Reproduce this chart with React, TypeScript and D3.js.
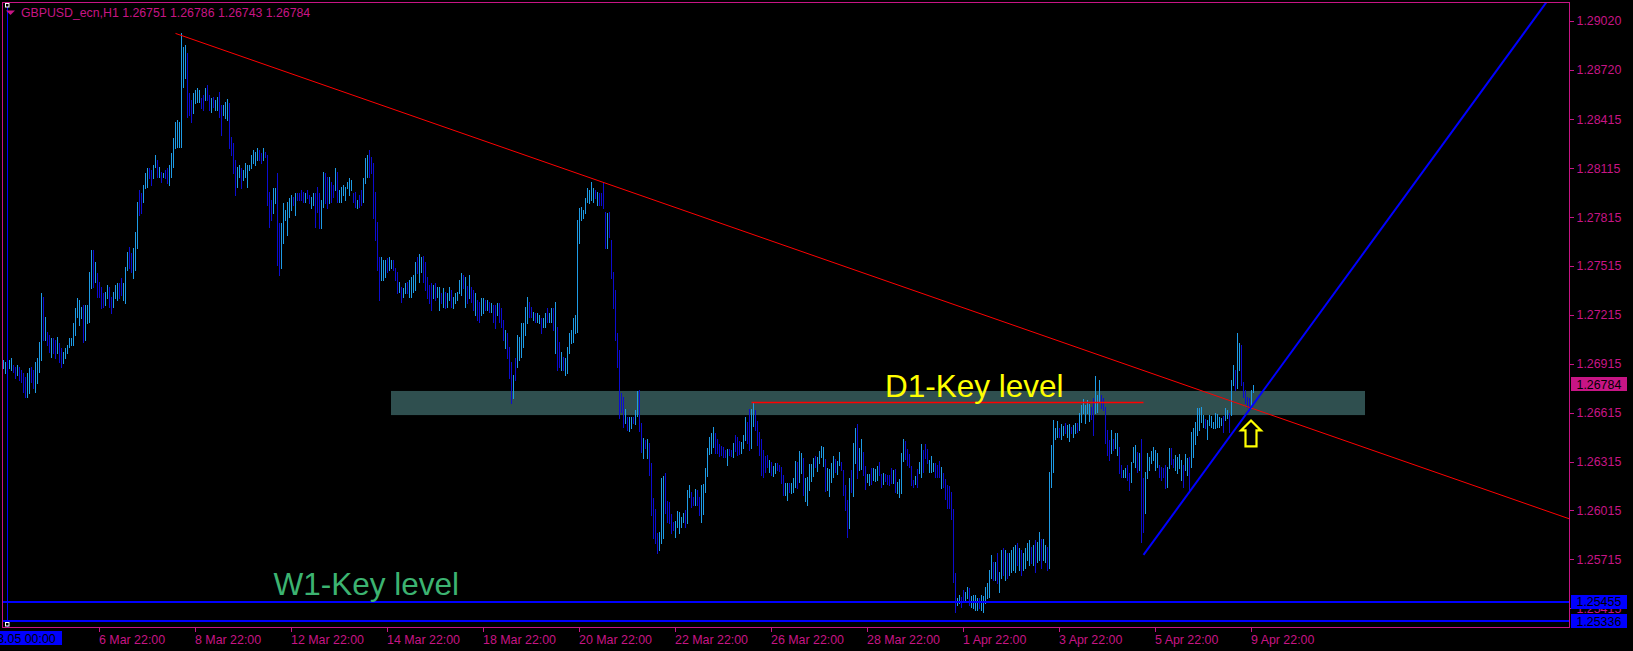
import React from "react";
import * as d3 from "d3";

// ---------- data ----------
const chartTitle = "GBPUSD_ecn,H1  1.26751 1.26786 1.26743 1.26784";
const basePrice = 1.25;
const pointSize = 0.00001;

// hourly bar highs / lows in points above 1.25000
const highPts = [
  1938,1928,1938,1938,1948,1907,1897,1907,1897,1877,
  1856,1836,1856,1887,1897,1877,1928,1948,2051,2347,
  2327,2204,2112,2092,2071,2071,2061,2081,2040,2010,
  1989,2010,2030,2071,2071,2163,2255,2316,2306,2265,
  2276,2276,2276,2480,2613,2613,2541,2470,2419,2388,
  2347,2357,2398,2388,2327,2357,2398,2408,2408,2439,
  2408,2511,2603,2633,2593,2623,2725,2909,2981,2961,
  3012,3083,3114,3114,3104,3134,3196,3165,3124,3094,
  3083,3104,3114,3134,3206,3298,3400,3411,3400,3942,
  3860,3871,3820,3574,3533,3574,3595,3605,3595,3543,
  3564,3605,3625,3564,3543,3554,3533,3554,3584,3503,
  3503,3523,3537,3513,3308,3267,3165,3124,3134,3114,
  3104,3145,3134,3134,3196,3226,3216,3237,3226,3206,
  3237,3216,3196,2971,2920,2991,2991,3083,2777,2777,
  2899,2858,2909,2930,2950,2940,2961,2961,2961,2981,
  2971,2961,2981,2950,2940,2961,2961,3002,2961,2920,
  3094,3083,3063,3063,3032,3012,3114,3094,2981,3002,
  3012,3002,3032,3053,3042,2961,2971,2920,2950,2981,
  3053,3175,3196,3226,3186,3145,2971,2787,2572,2572,
  2552,2552,2562,2572,2552,2552,2500,2480,2419,
  2388,2378,2409,2419,2429,2450,2460,2542,2572,2589,
  2572,2576,2542,2450,2398,2409,2398,2409,2388,2388,
  2347,2378,2358,2347,2388,2368,2327,2347,2358,2429,
  2470,2460,2450,2392,2460,2388,2368,2347,2306,2296,
  2317,2317,2306,2306,2296,2286,2276,2276,2286,2286,
  2255,2184,2122,2102,2020,1928,1846,1949,2092,2081,
  2163,2163,2266,2327,2296,2266,2235,2225,2225,2214,
  2194,2194,2225,2255,2225,2255,2255,2296,2143,2051,
  1989,1959,1949,2020,2102,2122,2194,2214,2797,2869,
  2879,2859,2930,2991,2981,3032,2991,2981,2971,2961,
  2961,3026,2848,2838,2848,2675,2480,2368,2102,
  2000,1738,1713,1635,1590,1590,1590,1590,1631,1750,
  1754,1550,1458,1447,1451,1427,1304,1089,1022,875,
  885,1212,1226,1243,1073,1069,993,946,950,1012,
  1008,977,997,1018,1141,1171,1130,1100,1147,1141,
  1100,1171,1177,1274,1396,1468,1492,1529,1488,1451,
  1423,1410,1402,1386,1392,1390,1386,1431,1478,1468,
  1443,1437,1478,1590,1560,1635,1635,1676,1631,1564,
  1498,1451,1386,1349,1355,1325,1314,1290,1304,1304,
  1294,1280,1233,1181,1181,1181,1181,1212,1320,1314,
  1382,
  1369,1334,1212,1218,1300,1300,1334,1349,1345,1381,
  1410,1402,1328,1273,1267,1304,1349,1328,1320,1375,
  1314,1263,1171,1079,1212,1263,1431,1519,1545,1396,
  1451,1375,1287,1238,1238,1273,1273,1267,1287,1314,
  1238,1247,1238,1232,1232,1273,1263,1267,1191,1206,
  1369,1451,1443,1390,1361,1287,1202,1226,1267,1314,
  1422,1386,1422,1390,1324,1349,1304,1308,1294,1320,
  1279,1242,1206,1171,1165,1130,1022,
  631,478,496,486,527,516,547,539,490,496,
  496,478,478,496,490,545,570,649,742,700,
  700,752,639,
  772,784,772,754,754,772,792,803,815,784,
  772,754,784,815,834,792,803,834,823,884,
  840,840,803,792,
  1253,1416,1570,1519,1566,1519,1545,1533,1549,1539,
  1545,1529,1539,1553,1549,1611,1662,1697,1662,1693,
  1668,1652,1703,1840,1723,1815,1723,1703,1648,1508,
  1447,1508,1451,1488,1492,1406,1294,1263,1273,1294,
  1243,1314,1406,1416,1376,1365,1451,1212,1253,1365,
  1345,1382,1406,1386,1365,1294,1283,1273,1294,1283,
  1396,1396,1329,1355,1345,1361,1324,1294,1361,1335,
  1345,1498,1519,1560,1641,1641,1648,1601,1574,1570,
  1601,1594,1560,1611,1607,1590,1580,1594,1641,1631,
  1611,1815,1907,1877,2102,2040,2030,1805,1754,1713,
  1703,1754,1786,
];

const lowPts = [
  1887,1856,1907,1887,1877,1867,1826,1846,1815,1805,
  1744,1713,1713,1734,1805,1764,1744,1795,1867,1938,
  2061,2061,2030,1989,1959,1979,1948,1979,1928,1897,
  1918,1948,1979,2020,2030,2030,2092,2204,2153,2194,
  2051,2061,2163,2173,2378,2388,2419,2327,2327,2255,
  2265,2276,2316,2265,2224,2265,2316,2306,2316,2337,
  2306,2286,2490,2500,2480,2439,2490,2623,2828,2838,
  2909,2991,3002,3053,3012,3053,3124,3063,3063,3032,
  3063,3053,3022,3012,3063,3124,3237,3247,3247,3247,
  3615,3666,3431,3441,3400,3451,3513,3523,3523,3482,
  3472,3533,3533,3472,3462,3492,3472,3472,3431,3318,
  3441,3421,3411,3237,3196,3083,2950,3002,3063,2991,
  3042,3063,3002,3104,3114,3145,3134,3165,3165,3145,
  3165,3186,2889,2756,2797,2838,2899,2521,2460,2500,
  2654,2797,2705,2817,2858,2889,2828,2920,2920,2920,
  2909,2909,2930,2899,2869,2889,2756,2848,2746,2746,
  2879,2899,2869,2899,2909,2940,2981,2909,2909,2909,
  2950,2920,2991,2950,2981,2909,2879,2869,2879,2889,
  2909,3022,3063,3063,3083,2807,2674,2490,2306,2429,
  2429,2449,2480,2490,2500,2490,2429,2347,2357,
  2296,2327,2347,2347,2327,2327,2358,2368,2470,2419,
  2480,2419,2368,2317,2286,2245,2317,2306,2327,2245,
  2286,2266,2255,2266,2306,2266,2255,2286,2306,2347,
  2337,2378,2266,2286,2317,2296,2245,2214,2184,2173,
  2214,2225,2245,2245,2235,2235,2173,2133,2214,2173,
  2143,2061,2010,1949,1826,1673,1703,1816,1897,1938,
  1959,2020,2092,2163,2204,2204,2184,2173,2173,2163,
  2102,2143,2143,2173,2173,2173,2122,1979,1877,1897,
  1877,1877,1846,1856,1979,2041,2051,2102,2112,2654,
  2797,2807,2838,2910,2899,2920,2910,2930,2889,2889,
  2889,2869,2623,2623,2695,2439,2255,2061,1897,
  1580,1621,1529,1550,1509,1502,1519,1550,1546,1595,
  1505,1376,1335,1396,1335,1233,987,844,813,752,
  772,813,844,997,946,936,875,895,854,916,
  875,916,946,916,940,1100,1038,1048,1048,1048,
  987,946,993,1130,1226,1361,1365,1406,1365,1365,
  1349,1355,1345,1341,1294,1355,1349,1341,1382,1355,
  1361,1365,1396,1447,1431,1386,1396,1533,1509,1417,
  1355,1233,1222,1253,1284,1253,1233,1226,1243,1263,
  1259,1181,1110,1110,1079,1130,1120,1130,1157,1151,
  1192,
  1242,1110,1075,1048,1140,1197,1226,1279,1259,1304,
  1345,1287,1136,1140,1103,1191,1222,1253,1238,1294,
  1263,1110,1018,854,905,1130,1103,1304,1212,1263,
  1267,1232,1144,1191,1171,1177,1202,1197,1202,1232,
  1157,1177,1197,1177,1171,1185,1181,1130,1120,1095,
  1120,1320,1328,1294,1279,1171,1157,1177,1161,1247,
  1218,1253,1334,1304,1253,1253,1259,1222,1222,1222,
  1150,1161,1083,1028,1028,960,578,
  394,435,447,421,465,465,476,435,424,416,
  404,404,416,404,394,447,478,486,600,588,
  591,568,516,
  600,619,588,600,619,637,649,637,680,649,
  619,649,662,711,680,692,680,637,699,711,
  662,711,699,649,
  662,1161,1253,1451,1463,1468,1451,1478,1488,1468,
  1443,1488,1468,1488,1498,1508,1560,1611,1553,1611,
  1566,1574,1478,1611,1621,1682,1641,1631,1427,1355,
  1324,1365,1386,1396,1355,1247,1218,1222,1222,1202,
  1140,1191,1314,1283,1253,1263,823,885,997,1212,
  1263,1308,1324,1263,1283,1222,1202,1222,1151,1161,
  1273,1300,1283,1263,1243,1273,1202,1161,1263,1232,
  1130,1283,1345,1423,1478,1508,1560,1529,1519,1451,
  1539,1529,1519,1519,1529,1529,1539,1498,1570,1580,
  1498,1601,1785,1754,1764,1877,1785,1713,1672,1652,
  1631,1641,1743,
];

// u = bullish bar, d = bearish bar
const barDirection = [
  "uuduuddudd","dduudduuuu","dudduddudd","uuuuuuuuuu","duuuududdd",
  "duudduuudd","uuudduuudd","uuudduudud","udduuuuuuu","uuddduuuud",
  "dudduduudd","uuudddduud","uuuuuuuudd","udddduuddu","uuuuududdd",
  "dudduudddu","uddudduduu","uuuuuddudd","uuuddddddu","uuduudddu",
  "duuduuuudu","uddddduduu","duduuduuuu","udududdudd","uudududdud",
  "dduddduduu","uuuudduduu","duuduududd","uduuuuuuuu","uuuuuuudud",
  "ddduddddd",
  "ddduduuduu","ddududdddd","uuuddddduu","uuuduuddud","duuuuuuudd",
  "dddduddudd","duuudduudd","ddddduduud","ddduuduuud","u",
  "uduuuuuduu","uuduuuuduu","dddduduudu","udduuduuud","dudddduduu",
  "uudddddudu","uddduuuddd","udddddd",
  "duudduuduu","uuduuuuuud","udu",
  "ududuuuudu","duuuududuu","duud",
  "uuuuuduudu","uduuduuuuu","udduuudddd","duduudduud","duuududduu",
  "uuuuuddddu","udduuuuduu","duuuuuuudu","uuuuuuuduu","duuduudddd","duu",
].join("");

const priceTicks = [1.2902, 1.2872, 1.28415, 1.28115, 1.27815, 1.27515, 1.27215,
  1.26915, 1.26615, 1.26315, 1.26015, 1.25715, 1.25415];
const timeTickBars = [48, 96, 144, 192, 240, 288, 336, 384, 432, 480, 528, 576, 624];
const timeTickLabels = ["6 Mar 22:00", "8 Mar 22:00", "12 Mar 22:00", "14 Mar 22:00",
  "18 Mar 22:00", "20 Mar 22:00", "22 Mar 22:00", "26 Mar 22:00", "28 Mar 22:00",
  "1 Apr 22:00", "3 Apr 22:00", "5 Apr 22:00", "9 Apr 22:00"];

const separatorBar = 2;
const separatorLabel = "2024.03.05 00:00";
const lastPrice = 1.26784;
const weeklyLevels = [1.25455, 1.25336];
const redTrend = [{ bar: 86, price: 1.28942 }, { bar: 294, price: 1.28053 }];
const blueTrend = [{ bar: 570, price: 1.25742 }, { bar: 624, price: 1.26651 }];
const dailyZone = { fromBar: 194, toBar: 681, top: 1.26748, bottom: 1.266 };
const dailyLine = { fromBar: 374, toBar: 570, price: 1.26677 };
const arrowMark = { bar: 624, price: 1.26567 };
const d1Label = { bar: 441, price: 1.26708, text: "D1-Key level" };
const w1Label = { bar: 135, price: 1.25496, text: "W1-Key level" };

// ---------- styling ----------
const AXIS = "#C71585";
const UP = "#1E9BE6";
const DOWN = "#0C0CD0";
const FONT = "'Liberation Sans', Arial, sans-serif";

const W = 1633, H = 651;
const L = 2.5, T = 2.5, R = 1569.5, B = 627.5;

export default function App() {
  const x = d3.scaleLinear().domain([0, 1]).range([3.5, 5.5]);
  const y = d3.scaleLinear().domain([1.25715, 1.2902]).range([559.3, 20.7]);
  const px = (v: number) => basePrice + v * pointSize;

  const n = Math.min(highPts.length, lowPts.length);
  const bars = d3.range(n).map((i) => ({
    i,
    hi: px(highPts[i]),
    lo: px(lowPts[i]),
    up: barDirection[i] !== "d",
  }));

  const ray = (a: { bar: number; price: number }, b: { bar: number; price: number }, toBar: number) => {
    const slope = (b.price - a.price) / (b.bar - a.bar);
    return { x1: x(a.bar), y1: y(a.price), x2: x(toBar), y2: y(a.price + slope * (toBar - a.bar)) };
  };
  const redRay = ray(redTrend[0], redTrend[1], x.invert(R + 2));
  const blueRay = ray(blueTrend[0], blueTrend[1], blueTrend[0].bar + 300);

  const ax = x(arrowMark.bar) - 0.5;
  const ay = y(arrowMark.price);
  const arrowPath = `M${ax},${ay} L${ax + 10},${ay + 10} L${ax + 5.5},${ay + 10} L${ax + 5.5},${ay + 26} L${ax - 5.5},${ay + 26} L${ax - 5.5},${ay + 10} L${ax - 10},${ay + 10} Z`;

  return (
    <svg width={W} height={H} style={{ position: "absolute", left: 0, top: 0, background: "#000" }}
      fontFamily={FONT}>
      <defs>
        <clipPath id="plot">
          <rect x={L + 0.5} y={T + 0.5} width={R - L - 1} height={B - T - 1} />
        </clipPath>
      </defs>
      <rect x={0} y={0} width={W} height={H} fill="#000" />

      <g clipPath="url(#plot)">
        {/* D1 zone */}
        <rect x={x(dailyZone.fromBar) - 0.5} y={y(dailyZone.top)} width={x(dailyZone.toBar) - x(dailyZone.fromBar)}
          height={y(dailyZone.bottom) - y(dailyZone.top)} fill="#2F4F4F" />

        {/* bars */}
        <g shapeRendering="crispEdges">
          {bars.map((b) => {
            const y1 = Math.round(y(b.hi));
            const y2 = Math.round(y(b.lo));
            return (
              <rect key={b.i} x={x(b.i) - 0.5} y={y1} width={1} height={Math.max(1, y2 - y1 + 1)}
                fill={b.up ? UP : DOWN} />
            );
          })}
        </g>

        {/* separator vertical line */}
        <line x1={x(separatorBar) - 0.5 + 0.5} x2={x(separatorBar)} y1={T} y2={B} stroke="#0000FF" strokeWidth={1} shapeRendering="crispEdges" />

        {/* weekly levels */}
        {weeklyLevels.map((p) => (
          <line key={p} x1={L} x2={R} y1={y(p)} y2={y(p)} stroke="#0000FF" strokeWidth={2} shapeRendering="crispEdges" />
        ))}

        {/* red trendline */}
        <line {...redRay} stroke="#FF0000" strokeWidth={1} />
        {/* daily red horizontal */}
        <line x1={x(dailyLine.fromBar)} x2={x(dailyLine.toBar)} y1={y(dailyLine.price)} y2={y(dailyLine.price)}
          stroke="#FF0000" strokeWidth={1.5} />
        {/* blue trendline */}
        <line {...blueRay} stroke="#0000FF" strokeWidth={2} />

        {/* arrow */}
        <path d={arrowPath} fill="none" stroke="#FFFF00" strokeWidth={2.2} strokeLinejoin="miter" />

        {/* labels */}
        <text x={x(d1Label.bar) - 0.5} y={y(d1Label.price)} fill="#FFFF00" fontSize={31.5}>{d1Label.text}</text>
        <text x={x(w1Label.bar)} y={y(w1Label.price)} fill="#3CB371" fontSize={31.5}>{w1Label.text}</text>
      </g>

      {/* selection handles of separator */}
      <rect x={5.5} y={3.5} width={3.5} height={3.5} fill="#000" stroke="#fff" strokeWidth={1} />
      <rect x={5.5} y={622.5} width={3.5} height={3.5} fill="#000" stroke="#fff" strokeWidth={1} />

      {/* frame */}
      <rect x={L} y={T} width={R - L} height={B - T} fill="none" stroke={AXIS} strokeWidth={1} shapeRendering="crispEdges" />

      {/* header */}
      <polygon points="6,10.5 15,10.5 10.5,15" fill={AXIS} />
      <text x={21} y={17} fill={AXIS} fontSize={12.3}>{chartTitle}</text>

      {/* price axis */}
      {priceTicks.map((p) => (
        <g key={p}>
          <line x1={R} x2={R + 4} y1={Math.round(y(p)) + 0.5} y2={Math.round(y(p)) + 0.5} stroke={AXIS} shapeRendering="crispEdges" />
          <text x={1576.5} y={y(p) + 4.5} fill={AXIS} fontSize={12.4}>{d3.format(".5f")(p)}</text>
        </g>
      ))}
      {/* current price label */}
      <rect x={1571} y={Math.round(y(lastPrice)) - 8} width={56} height={14} fill={AXIS} />
      <text x={1576.5} y={y(lastPrice) + 3.5} fill="#000" fontSize={12.4}>{d3.format(".5f")(lastPrice)}</text>
      {/* weekly level labels */}
      {weeklyLevels.map((p) => (
        <g key={"w" + p}>
          <rect x={1571} y={Math.round(y(p)) - 7} width={56} height={14} fill="#0000FF" />
          <text x={1576.5} y={y(p) + 4.5} fill="#000" fontSize={12.4}>{d3.format(".5f")(p)}</text>
        </g>
      ))}

      {/* time axis */}
      {timeTickBars.map((b, k) => (
        <g key={b}>
          <line x1={x(b)} x2={x(b)} y1={B} y2={B + 4} stroke={AXIS} shapeRendering="crispEdges" />
          <text x={x(b) - 0.5} y={643.5} fill={AXIS} fontSize={12.4}>{timeTickLabels[k]}</text>
        </g>
      ))}
      <rect x={x(separatorBar) - 54.5} y={631} width={109} height={14} fill="#0000FF" />
      <text x={x(separatorBar)} y={643} fill="#000" fontSize={12.4} textAnchor="middle">{separatorLabel}</text>
    </svg>
  );
}
